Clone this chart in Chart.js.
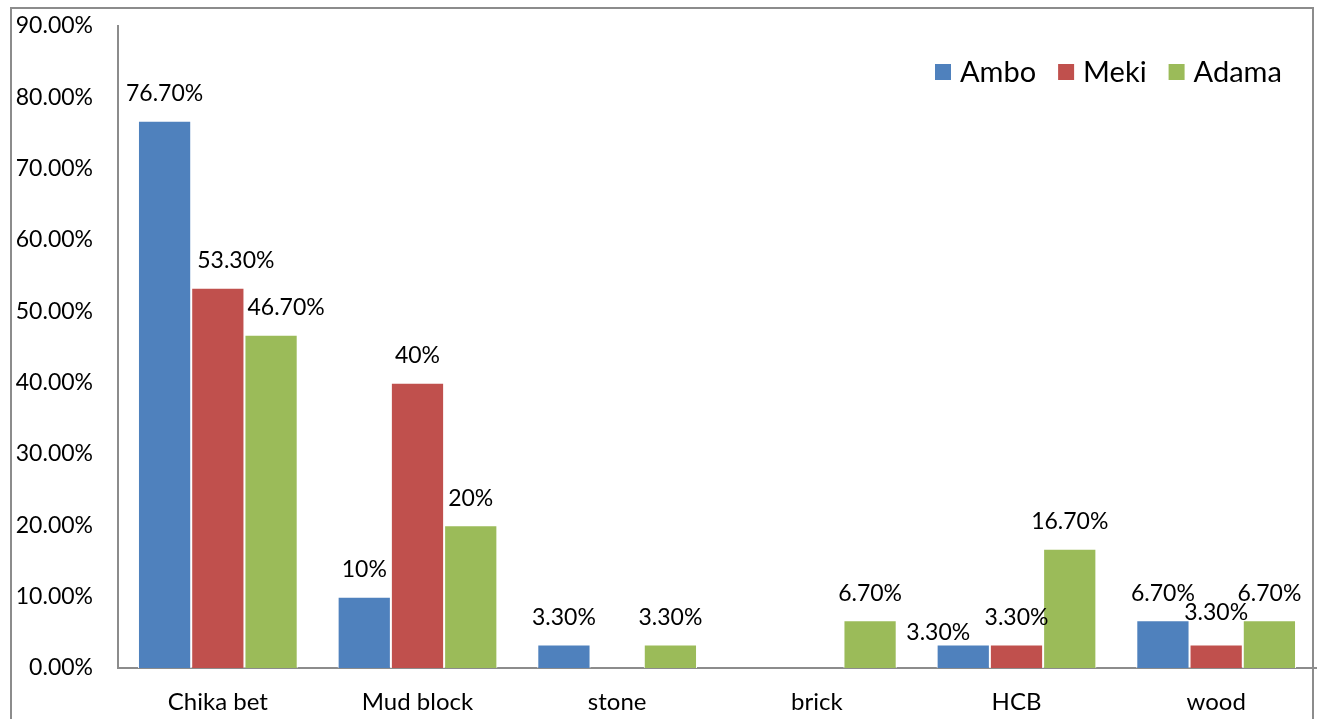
<!DOCTYPE html>
<html>
<head>
<meta charset="utf-8">
<script src="https://cdn.jsdelivr.net/npm/chart.js@4.4.1/dist/chart.umd.min.js"></script>
<style>
  html, body { margin: 0; padding: 0; background: #fff; overflow: hidden; }
  #wrap { position: relative; width: 1319px; height: 719px; }
  #frame { position: absolute; left: 10px; top: 7px; width: 1304px; height: 720px;
           border: 2px solid #8c8c8c; box-sizing: border-box; pointer-events: none; }
  canvas { position: absolute; left: 0; top: 0; }
</style>
</head>
<body>
<div id="wrap">
  <canvas id="chart" width="1319" height="719"></canvas>
  <div id="frame"></div>
</div>
<script>
const categories = ["Chika bet", "Mud block", "stone", "brick", "HCB", "wood"];
const ambo  = [0.767, 0.10, 0.033, 0, 0.033, 0.067];
const meki  = [0.533, 0.40, 0, 0, 0.033, 0.033];
const adama = [0.467, 0.20, 0.033, 0.067, 0.167, 0.067];
const amboLabels  = ["76.70%", "10%", "3.30%", "", "3.30%", "6.70%"];
const mekiLabels  = ["53.30%", "40%", "", "", "3.30%", "3.30%"];
const adamaLabels = ["46.70%", "20%", "3.30%", "6.70%", "16.70%", "6.70%"];
const yTicks = [0, 0.1, 0.2, 0.3, 0.4, 0.5, 0.6, 0.7, 0.8, 0.9];

const FONT = "Lato";

// a few labels sit off-centre in the original (dataset-index: [dx, dy])
const labelNudge = { "1-0": [18, 0], "2-0": [15, 0], "0-4": [-25, 15], "1-5": [0, -5] };

const valueLabels = {
    id: "valueLabels",
    afterDatasetsDraw(chart) {
        const ctx = chart.ctx;
        ctx.save();
        ctx.font = "23px " + FONT;
        ctx.fillStyle = "#000";
        ctx.textAlign = "center";
        ctx.textBaseline = "middle";
        chart.data.datasets.forEach((ds, di) => {
            chart.getDatasetMeta(di).data.forEach((bar, i) => {
                const txt = ds.labels[i];
                if (!txt) return;
                const n = labelNudge[di + "-" + i] || [0, 0];
                ctx.fillText(txt, bar.x + n[0], bar.y - 27 + n[1]);
            });
        });
        ctx.restore();
    }
};

const topLegend = {
    id: "topLegend",
    afterDraw(chart) {
        const ctx = chart.ctx;
        ctx.save();
        ctx.font = "29px " + FONT;
        ctx.textBaseline = "middle";
        const y = 72;
        let x = 935;
        chart.data.datasets.forEach(ds => {
            ctx.fillStyle = ds.backgroundColor;
            ctx.fillRect(x, y - 8, 16, 16);
            ctx.fillStyle = "#000";
            ctx.fillText(ds.label, x + 25, y + 1);
            x += 25 + ctx.measureText(ds.label).width + 22;
        });
        ctx.restore();
    }
};

new Chart(document.getElementById("chart"), {
    type: "bar",
    data: {
        labels: categories,
        datasets: [
            { label: "Ambo",  data: ambo,  labels: amboLabels,  backgroundColor: "#4f81bd" },
            { label: "Meki",  data: meki,  labels: mekiLabels,  backgroundColor: "#c0504d" },
            { label: "Adama", data: adama, labels: adamaLabels, backgroundColor: "#9bbb59" }
        ]
    },
    options: {
        responsive: false,
        animation: false,
        layout: { padding: { left: 0, right: 3, top: 26, bottom: 0 } },
        datasets: { bar: { categoryPercentage: 0.8, barPercentage: 1, borderColor: "#fff", borderWidth: 1 } },
        plugins: { legend: { display: false }, tooltip: { enabled: false } },
        scales: {
            x: {
                grid: { display: false, drawTicks: false },
                border: { color: "#8c8c8c", width: 2 },
                ticks: { color: "#000", font: { family: FONT, size: 24 }, padding: 20 },
                afterFit(s) { s.height = 51; s.paddingLeft = 0; s.paddingRight = 0; }
            },
            y: {
                min: 0, max: 0.9,
                afterBuildTicks(s) { s.ticks = yTicks.map(v => ({ value: v })); },
                grid: { display: false, drawTicks: false },
                border: { color: "#8c8c8c", width: 2 },
                ticks: {
                    color: "#000", font: { family: FONT, size: 23 }, padding: 25,
                    callback: v => (v * 100).toFixed(2) + "%"
                },
                afterFit(s) { s.width = 118; s.paddingTop = 0; s.paddingBottom = 0; }
            }
        }
    },
    plugins: [valueLabels, topLegend]
});
</script>
</body>
</html>
